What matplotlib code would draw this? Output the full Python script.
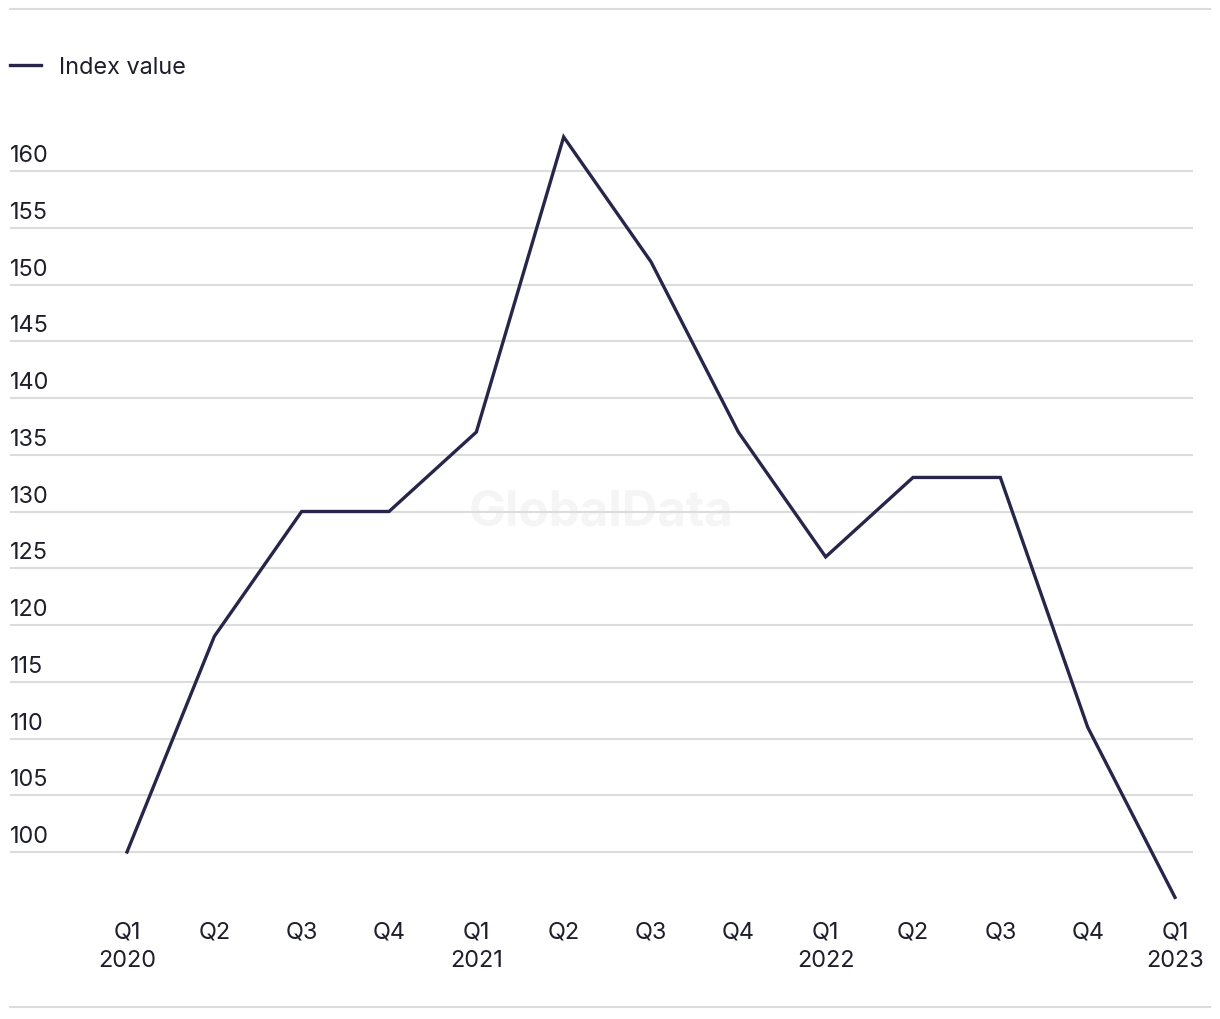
#!/usr/bin/env python3

import matplotlib
matplotlib.use('Agg')
import matplotlib.pyplot as plt
from matplotlib.lines import Line2D
from matplotlib.transforms import ScaledTranslation

plt.rcParams['font.family'] = ['Inter', 'DejaVu Sans']

quarters = ["Q1\n2020", "Q2", "Q3", "Q4",
            "Q1\n2021", "Q2", "Q3", "Q4",
            "Q1\n2022", "Q2", "Q3", "Q4",
            "Q1\n2023"]
index_value = [100, 119, 130, 130, 137, 163, 152, 137, 126, 133, 133, 111, 96]
y_ticks = list(range(100, 161, 5))

LINE_COLOR = "#27264a"
TEXT_COLOR = "#1e1e2c"
GRID_COLOR = "#dcdcdc"
FONT_SIZE = 16.9

W, H = 1220, 1020
fig = plt.figure(figsize=(W / 100, H / 100), dpi=100)

# axes box in pixels: x 10..1193, y 120..910 (from top)
ax = fig.add_axes([10 / W, 1 - 910 / H, 1183 / W, 790 / H])

x = list(range(len(index_value)))
ax.plot(x, index_value, color=LINE_COLOR, linewidth=2.4, label="Index value",
        solid_joinstyle='miter', zorder=3)

step = 87.33
ax.set_xlim(-117 / step, 12 + 18 / step)
ppu = 11.35
ax.set_ylim(100 - 57 / ppu, 100 + 733 / ppu)

ax.set_yticks(y_ticks)
ax.set_yticklabels([str(v) for v in y_ticks])
ax.set_xticks(x)
ax.set_xticklabels(quarters)

for s in ax.spines.values():
    s.set_visible(False)
ax.grid(axis='y', color=GRID_COLOR, linewidth=1.5, zorder=1)
ax.grid(axis='x', visible=False)
ax.tick_params(axis='both', length=0, labelsize=FONT_SIZE, labelcolor=TEXT_COLOR)
ax.tick_params(axis='y', pad=0)
ax.tick_params(axis='x', pad=8)

for lab in ax.get_yticklabels():
    lab.set_horizontalalignment('left')
    lab.set_verticalalignment('bottom')
    lab.set_transform(lab.get_transform() + ScaledTranslation(0, 3.5 / 72, fig.dpi_scale_trans))
for lab in ax.get_xticklabels():
    lab.set_linespacing(1.4)

# watermark
ax.text(0.5, 1 - (512 - 120) / 790, "GlobalData", transform=ax.transAxes,
        ha='center', va='center', fontsize=35.5, fontweight='bold',
        color="#f5f5f5", zorder=0)

# legend
fig.legend(loc='center left', bbox_to_anchor=(10 / W, 1 - 68 / H),
           frameon=False, fontsize=FONT_SIZE, labelcolor=TEXT_COLOR,
           handlelength=1.3, handletextpad=0.8, borderpad=0, borderaxespad=0)

# top and bottom rules
for yy in (10, 1008):
    fig.add_artist(Line2D([10 / W, 1210 / W], [1 - yy / H, 1 - yy / H],
                          color=GRID_COLOR, linewidth=1.5))

fig.savefig("out.png", dpi=100, facecolor='white')
